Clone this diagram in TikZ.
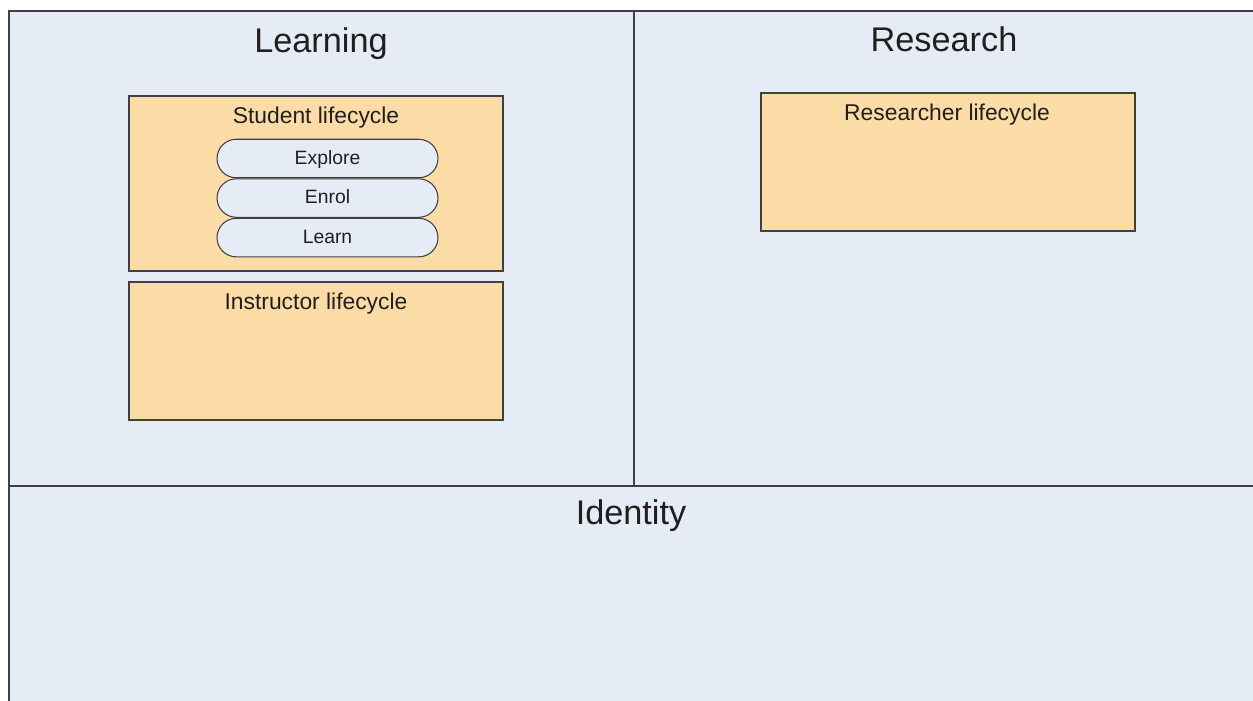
\documentclass[tikz,border=0pt]{standalone}
\usepackage{fontspec}
\setmainfont{Liberation Sans}
\usetikzlibrary{positioning,shapes.misc}

\definecolor{paneblue}{RGB}{230,236,246}
\definecolor{boxorange}{RGB}{251,220,166}
\definecolor{edgegray}{RGB}{64,64,64}
\definecolor{textdark}{RGB}{34,30,30}

\tikzset{
  pane/.style={fill=paneblue, draw=edgegray, line width=0.6pt},
  lifebox/.style={fill=boxorange, draw=edgegray, line width=0.6pt},
  panetitle/.style={anchor=base, inner sep=0pt, font=\fontsize{19.5}{22}\selectfont, text=textdark},
  boxtitle/.style={anchor=base, inner sep=0pt, font=\fontsize{13}{15}\selectfont, text=textdark},
  stage/.style={rounded rectangle, draw=edgegray, fill=paneblue, line width=0.6pt,
    minimum width=4.42cm, minimum height=0.77cm, inner sep=0pt,
    text height=6.5pt, text depth=0pt,
    font=\fontsize{11}{13}\selectfont, text=textdark}
}

\begin{document}
\begin{tikzpicture}[x=0.02cm,y=-0.02cm]
  \useasboundingbox (0,0) rectangle (1253,700);
  \clip (0,0) rectangle (1253,700);

  % panes
  \draw[pane] (9,11) rectangle (1270,720);
  \draw[edgegray, line width=0.6pt] (634,11) -- (634,486);
  \draw[edgegray, line width=0.6pt] (9,486) -- (1270,486);

  \node[panetitle] (learning) at (321,52) {Learning};
  \node[panetitle] (research) at (944,51) {Research};
  \node[panetitle] (identity) at (631,524) {Identity};

  % learning side
  \draw[lifebox] (129,96) rectangle (503,271);
  \node[boxtitle] (student) at (316,123) {Student lifecycle};
  \node[stage] (explore) at (327.5,158.5) {Explore};
  \node[stage, below=0pt of explore] (enrol) {Enrol};
  \node[stage, below=0pt of enrol] (learn) {Learn};

  \draw[lifebox] (129,282) rectangle (503,420);
  \node[boxtitle] (instructor) at (316,309) {Instructor lifecycle};

  % research side
  \draw[lifebox] (761,93) rectangle (1135,231);
  \node[boxtitle] (researcher) at (947,120) {Researcher lifecycle};
\end{tikzpicture}
\end{document}
